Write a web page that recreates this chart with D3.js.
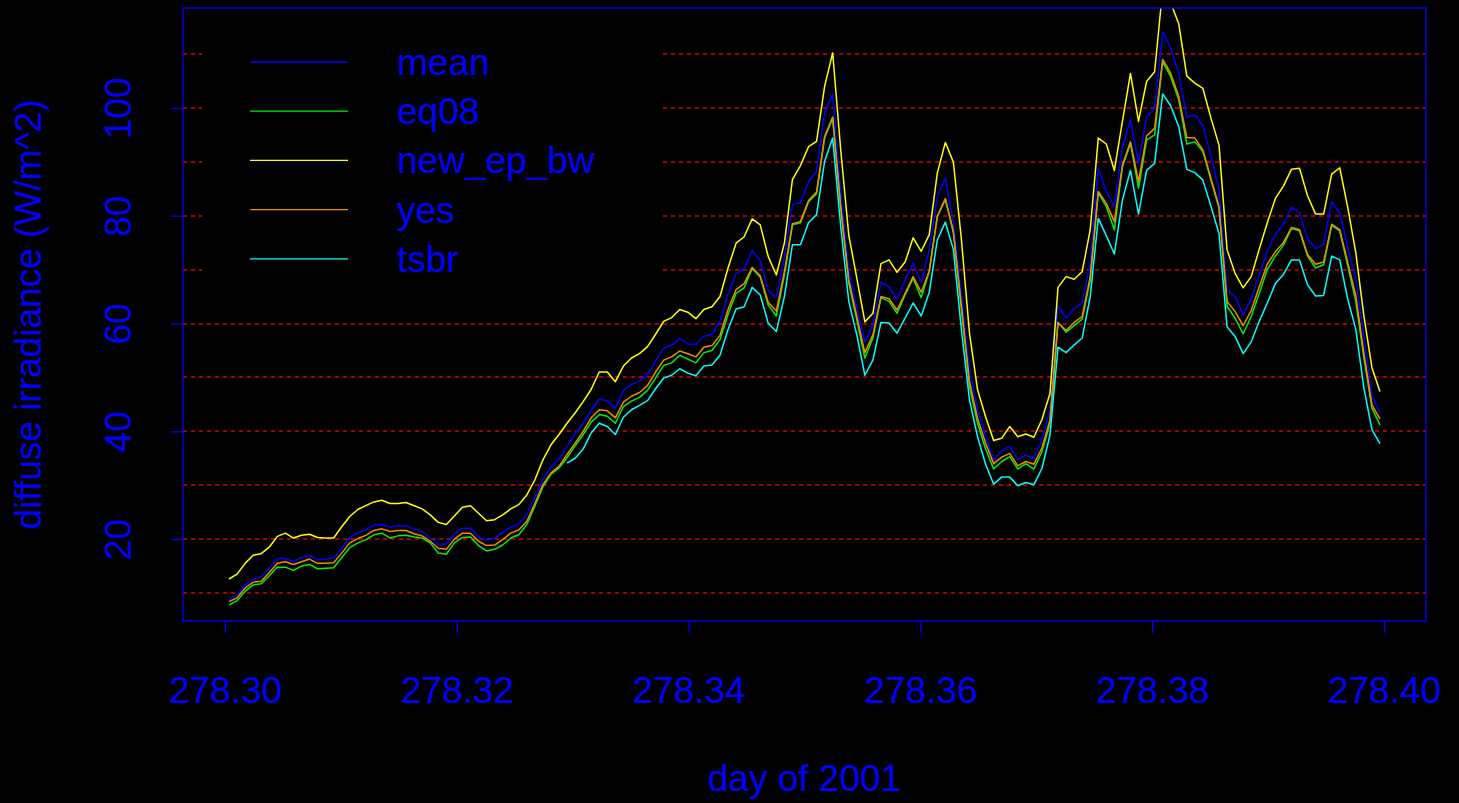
<!DOCTYPE html>
<html>
<head>
<meta charset="utf-8">
<script src="https://cdn.jsdelivr.net/npm/d3@7"></script>
<style>
  html, body { margin: 0; padding: 0; background: #000; }
  svg { display: block; }
  text { font-family: "Liberation Sans", Arial, sans-serif; fill: #0000ff; }
</style>
</head>
<body>
<div id="chart"></div>
<script>
// diffuse irradiance, one-minute samples on day 278 of 2001
const DAY0 = 278.3;       // first minute starts here
const STEP = 1 / 1440;    // one minute, in days
const N = 144;

const seriesNames = ["mean", "eq08", "new_ep_bw", "yes", "tsbr"];
const seriesColors = ["#0000ff", "#00f000", "#ffff00", "#f08c00", "#00ffff"];

const mean = [8.8, 9.6, 11.5, 12.6, 13.0, 14.6, 16.4, 16.4, 15.8, 16.6,
  17.0, 16.2, 16.3, 16.5, 18.3, 20.3, 21.2, 21.7, 22.6, 22.7,
  22.2, 22.5, 22.5, 21.9, 21.4, 20.2, 19.0, 19.1, 21.0, 22.0,
  22.0, 20.4, 19.8, 20.2, 21.2, 22.2, 22.8, 24.6, 27.6, 31.0,
  33.4, 34.9, 37.2, 39.6, 41.5, 43.9, 46.0, 45.6, 44.3, 47.6,
  48.7, 49.3, 50.5, 53.0, 55.4, 56.0, 57.2, 56.2, 56.1, 57.6,
  58.0, 60.4, 65.4, 69.2, 70.2, 73.5, 71.7, 66.1, 64.8, 72.4,
  82.1, 82.4, 86.3, 88.2, 99.0, 102.6, 84.2, 69.9, 62.8, 56.6,
  59.7, 67.6, 66.9, 64.5, 68.1, 71.2, 67.6, 73.7, 83.5, 87.0,
  78.6, 65.0, 51.4, 44.0, 39.0, 34.7, 36.4, 37.2, 34.7, 35.6,
  35.0, 38.4, 44.0, 63.3, 61.0, 62.8, 63.8, 71.2, 88.8, 84.5,
  81.7, 92.8, 97.8, 89.7, 98.4, 99.9, 114.1, 111.1, 106.4, 98.3,
  98.7, 96.7, 91.0, 84.8, 66.2, 65.0, 61.6, 64.6, 69.0, 73.4,
  76.5, 78.4, 81.6, 80.6, 75.7, 73.9, 74.7, 82.6, 80.5, 74.1,
  68.2, 57.6, 46.5, 43.4];

const eq08 = [7.8, 8.6, 10.3, 11.5, 11.7, 13.2, 14.8, 14.8, 14.2, 15.0,
  15.3, 14.5, 14.6, 14.7, 16.6, 18.4, 19.3, 19.9, 20.8, 21.1,
  20.2, 20.6, 20.7, 20.4, 20.2, 19.3, 17.4, 17.2, 19.3, 20.3,
  20.4, 18.8, 17.8, 18.1, 18.9, 20.2, 20.8, 22.7, 26.1, 29.7,
  32.0, 33.2, 35.1, 37.3, 39.4, 41.7, 43.1, 42.8, 41.5, 44.6,
  45.6, 46.3, 47.6, 49.9, 52.2, 52.7, 54.1, 53.4, 52.7, 54.6,
  55.0, 57.0, 61.7, 65.6, 66.6, 70.2, 68.6, 63.4, 61.4, 69.0,
  78.3, 78.7, 82.6, 84.1, 94.4, 98.1, 81.4, 67.5, 60.7, 53.6,
  57.3, 64.8, 64.1, 61.9, 65.3, 68.4, 64.8, 69.7, 79.8, 83.0,
  76.8, 62.5, 48.3, 41.5, 36.7, 33.0, 34.4, 35.3, 33.0, 34.0,
  33.0, 36.2, 41.5, 60.2, 58.4, 59.6, 60.8, 68.1, 84.3, 81.7,
  77.4, 89.1, 93.4, 85.1, 94.0, 95.0, 108.6, 105.8, 101.5, 93.3,
  93.7, 91.9, 86.6, 81.4, 63.2, 61.0, 58.1, 61.3, 65.6, 70.0,
  72.5, 74.5, 77.6, 77.2, 72.5, 70.3, 70.9, 78.2, 77.2, 70.7,
  64.1, 53.6, 44.3, 41.2];

const newEpBw = [12.6, 13.5, 15.5, 17.0, 17.3, 18.5, 20.5, 21.1, 20.2, 20.7,
  20.9, 20.3, 20.2, 20.2, 22.3, 24.2, 25.5, 26.2, 26.9, 27.2,
  26.6, 26.6, 26.8, 26.2, 25.6, 24.5, 23.1, 22.7, 24.3, 25.9,
  26.2, 24.8, 23.4, 23.6, 24.5, 25.6, 26.4, 28.2, 31.0, 34.7,
  37.5, 39.4, 41.5, 43.4, 45.5, 47.8, 51.0, 51.0, 49.2, 52.1,
  53.6, 54.4, 55.7, 58.0, 60.4, 61.1, 62.6, 62.1, 60.9, 62.6,
  63.1, 65.0, 70.3, 74.9, 76.1, 79.4, 78.3, 72.4, 69.0, 74.9,
  86.7, 89.3, 92.8, 93.8, 104.0, 110.2, 92.2, 76.4, 68.4, 60.3,
  61.9, 71.1, 71.8, 69.5, 71.4, 75.9, 73.4, 76.5, 87.9, 93.6,
  89.9, 75.5, 58.2, 47.7, 42.7, 38.3, 38.7, 40.9, 39.0, 39.5,
  38.9, 42.2, 47.0, 66.7, 68.7, 68.2, 69.6, 77.4, 94.4, 93.3,
  88.4, 97.5, 106.4, 97.5, 104.9, 106.7, 122.0, 119.5, 115.6, 105.9,
  104.6, 103.6, 98.1, 93.1, 73.7, 69.3, 66.6, 68.7, 73.8, 78.7,
  83.2, 85.5, 88.6, 88.8, 83.7, 80.3, 80.3, 87.7, 88.9, 81.5,
  73.1, 61.4, 51.8, 47.4];

const yes = [8.4, 9.1, 10.9, 12.0, 12.2, 13.8, 15.5, 15.8, 15.3, 15.8,
  16.3, 15.5, 15.5, 15.6, 17.4, 19.3, 20.1, 20.7, 21.6, 21.9,
  21.4, 21.6, 21.6, 21.0, 20.6, 19.6, 18.3, 18.1, 20.0, 21.1,
  21.1, 19.6, 18.8, 18.9, 19.9, 21.1, 21.7, 23.3, 26.6, 30.1,
  32.3, 33.5, 35.7, 37.8, 40.0, 42.5, 44.0, 43.8, 42.5, 45.4,
  46.5, 47.2, 48.5, 51.0, 53.2, 53.8, 54.9, 54.4, 53.8, 55.6,
  55.9, 57.8, 62.6, 66.3, 67.4, 70.4, 68.8, 63.9, 62.3, 69.6,
  78.5, 78.9, 82.8, 84.4, 94.7, 98.3, 81.7, 68.1, 61.3, 54.6,
  57.9, 65.0, 64.6, 62.5, 65.6, 68.7, 65.8, 69.7, 79.9, 83.2,
  77.1, 63.2, 49.2, 42.4, 37.8, 34.0, 35.2, 35.9, 33.6, 34.4,
  33.9, 36.9, 42.1, 60.2, 58.7, 60.2, 61.3, 68.7, 84.5, 82.3,
  78.9, 89.4, 93.7, 86.3, 94.8, 96.2, 109.0, 106.4, 102.1, 94.5,
  94.4, 92.2, 86.9, 81.7, 64.1, 62.2, 59.6, 62.4, 66.8, 71.0,
  73.3, 75.0, 77.8, 77.4, 72.8, 71.0, 71.4, 78.4, 77.4, 71.3,
  65.1, 54.5, 44.9, 42.3];

// tsbr has no values for the first 42 minutes
const tsbr = [null, null, null, null, null, null, null, null, null, null,
  null, null, null, null, null, null, null, null, null, null,
  null, null, null, null, null, null, null, null, null, null,
  null, null, null, null, null, null, null, null, null, null,
  null, null, 34.1, 35.0, 36.7, 39.7, 41.5, 40.9, 39.4, 42.6,
  44.0, 44.8, 45.7, 47.9, 49.9, 50.4, 51.6, 50.8, 50.3, 52.1,
  52.3, 54.1, 58.9, 62.7, 63.1, 66.7, 65.3, 60.0, 58.5, 65.0,
  74.6, 74.6, 78.7, 80.2, 90.1, 94.4, 78.0, 64.1, 57.9, 50.4,
  53.2, 60.2, 60.1, 58.2, 61.0, 63.8, 61.4, 65.8, 75.5, 78.8,
  73.7, 58.8, 45.8, 39.0, 33.9, 30.2, 31.5, 31.5, 29.9, 30.5,
  30.1, 33.1, 39.3, 55.6, 54.6, 56.0, 57.3, 65.0, 79.5, 76.3,
  72.9, 82.9, 88.4, 80.3, 88.4, 89.7, 102.6, 100.4, 96.5, 88.6,
  88.0, 86.6, 81.7, 76.7, 59.4, 57.6, 54.4, 56.6, 60.4, 63.8,
  67.4, 69.1, 71.8, 71.8, 67.2, 65.1, 65.2, 72.5, 71.8, 64.5,
  58.9, 48.0, 40.3, 37.7];

const xTicks = [278.30, 278.32, 278.34, 278.36, 278.38, 278.40];
const yTicks = [20, 40, 60, 80, 100];
const gridLevels = [10, 20, 30, 40, 50, 60, 70, 80, 90, 100, 110];

const W = 1459, H = 803;
const P = { left: 183, right: 1426, top: 8, bottom: 621 };

const times = d3.range(N).map((i) => DAY0 + (i + 0.5) * STEP);
const allSeries = [mean, eq08, newEpBw, yes, tsbr];

const x = d3.scaleLinear().domain([278.30, 278.40]).range([225, 1384]);
const y = d3.scaleLinear().domain([10, 110]).range([593, 54]);

const svg = d3.select("#chart").append("svg")
  .attr("width", W).attr("height", H);
svg.append("rect").attr("width", W).attr("height", H).attr("fill", "#000");

svg.append("clipPath").attr("id", "plotclip")
  .append("rect")
  .attr("x", P.left).attr("y", P.top)
  .attr("width", P.right - P.left).attr("height", P.bottom - P.top);

// red dashed reference lines; two-pixel band keeps them bright after compression
svg.append("g")
  .selectAll("line")
  .data(gridLevels)
  .join("line")
  .attr("x1", P.left).attr("x2", P.right)
  .attr("y1", (d) => Math.round(y(d))).attr("y2", (d) => Math.round(y(d)))
  .attr("stroke", "#e00000").attr("stroke-width", 1.6)
  .attr("stroke-dasharray", "4,4");

// series lines
const line = d3.line()
  .defined((d) => d[1] != null)
  .x((d) => x(d[0]))
  .y((d) => y(d[1]));

svg.append("g").attr("clip-path", "url(#plotclip)")
  .selectAll("path")
  .data(allSeries)
  .join("path")
  .attr("d", (s) => line(times.map((t, i) => [t, s[i]])))
  .attr("fill", "none")
  .attr("stroke", (s, i) => seriesColors[i])
  .attr("stroke-width", 1.5)
  .attr("stroke-linejoin", "round");

// legend (black box over the grid)
const legend = svg.append("g");
legend.append("rect")
  .attr("x", 202).attr("y", 30).attr("width", 459).attr("height", 262)
  .attr("fill", "#000");
const rowY = (i) => 62 + i * 49.2;
legend.selectAll("line")
  .data(seriesNames)
  .join("line")
  .attr("x1", 250).attr("x2", 348)
  .attr("y1", (d, i) => rowY(i)).attr("y2", (d, i) => rowY(i))
  .attr("stroke", (d, i) => seriesColors[i])
  .attr("stroke-width", 1.3);
legend.selectAll("text")
  .data(seriesNames)
  .join("text")
  .attr("x", 397)
  .attr("y", (d, i) => rowY(i) + 13)
  .attr("font-size", 37)
  .text((d) => d);

// box
svg.append("rect")
  .attr("x", P.left).attr("y", P.top)
  .attr("width", P.right - P.left).attr("height", P.bottom - P.top)
  .attr("fill", "none").attr("stroke", "#0000ff").attr("stroke-width", 1.3);

// x axis
const gx = svg.append("g").attr("transform", `translate(0,${P.bottom})`)
  .call(d3.axisBottom(x).tickValues(xTicks).tickFormat(d3.format(".2f")).tickSize(12));
gx.select(".domain").remove();
gx.selectAll("line").attr("stroke", "#0000ff").attr("stroke-width", 1.3);
gx.selectAll("text")
  .attr("fill", "#0000ff").attr("font-size", 37)
  .attr("font-family", "Liberation Sans, Arial, sans-serif")
  .attr("dy", null).attr("y", 82);

// y axis
const gy = svg.append("g").attr("transform", `translate(${P.left},0)`)
  .call(d3.axisLeft(y).tickValues(yTicks).tickSize(12));
gy.select(".domain").remove();
gy.selectAll("line").attr("stroke", "#0000ff").attr("stroke-width", 1.3);
gy.selectAll("text")
  .attr("fill", "#0000ff").attr("font-size", 37)
  .attr("font-family", "Liberation Sans, Arial, sans-serif")
  .attr("dy", null).attr("x", 0).attr("y", -52)
  .attr("text-anchor", "middle")
  .attr("transform", "rotate(-90)");

// axis titles
svg.append("text")
  .attr("x", (P.left + P.right) / 2).attr("y", 791)
  .attr("text-anchor", "middle").attr("font-size", 37)
  .text("day of 2001");
svg.append("text")
  .attr("transform", `translate(41,${(P.top + P.bottom) / 2}) rotate(-90)`)
  .attr("text-anchor", "middle").attr("font-size", 37)
  .text("diffuse irradiance (W/m^2)");
</script>
</body>
</html>
